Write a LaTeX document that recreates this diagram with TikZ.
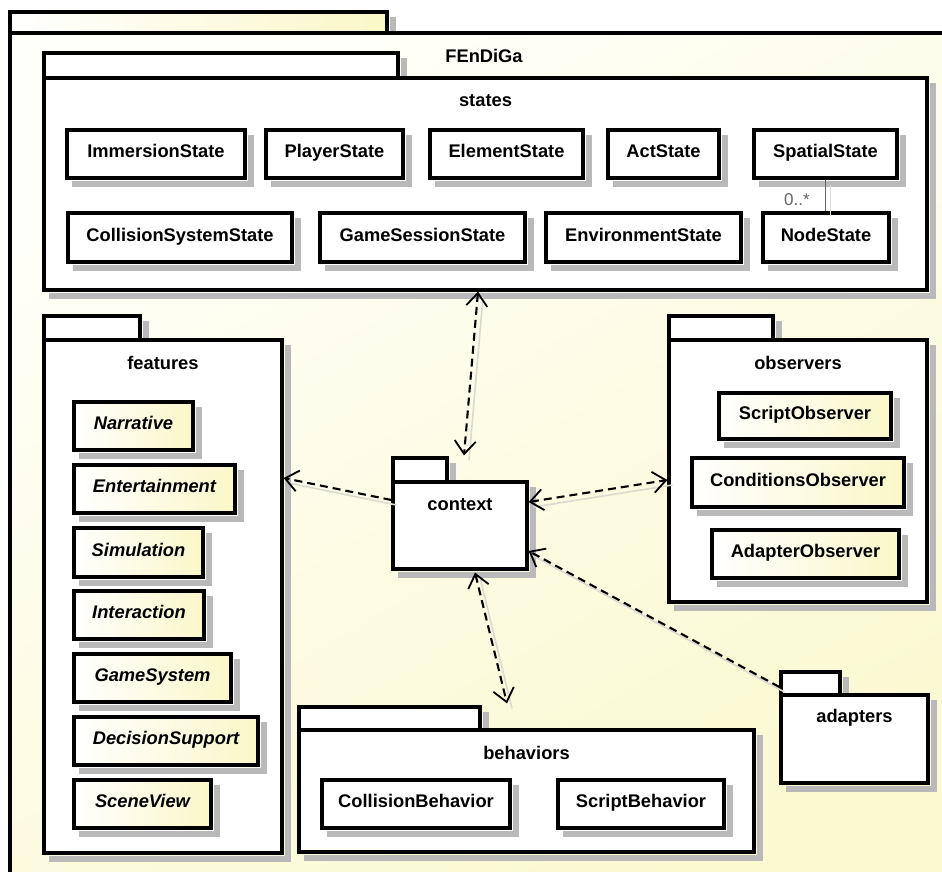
\documentclass[tikz,border=0pt]{standalone}
\usepackage{fontspec}
\setmainfont{Liberation Sans}
\usetikzlibrary{arrows.meta}

\definecolor{cream}{RGB}{250,247,200}
\definecolor{outerdeep}{RGB}{250,249,208}
\definecolor{outerlight}{RGB}{255,255,250}
\definecolor{shadowgray}{RGB}{185,185,185}
\definecolor{ghostgray}{RGB}{218,218,206}
\definecolor{multgray}{RGB}{100,100,100}

\tikzset{
  umlfont/.style={font=\fontsize{18.3}{22}\selectfont\bfseries},
  boxline/.style={draw, line width=3.2pt, rectangle, inner sep=0pt},
  cls/.style={boxline, fill=white, umlfont, text height=13pt, text depth=6pt},
  clsy/.style={cls, left color=white, right color=cream},
  abstractcls/.style={clsy, font=\fontsize{18.3}{22}\selectfont\bfseries\itshape},
  pkgpart/.style={boxline, fill=white},
  pkglabel/.style={umlfont, inner sep=0pt},
  shadowline/.style={draw=shadowgray, line width=6pt, line cap=butt, line join=miter},
  >={Straight Barb[length=13pt,width=21pt,line width=1.8pt]},
  dep/.style={line width=2.1pt, dash pattern=on 8pt off 5pt},
  ghost/.style={draw=ghostgray, line width=1.6pt, transform canvas={shift={(5pt,-5pt)}}},
  assoc/.style={draw=multgray, line width=1.6pt},
  mult/.style={font=\fontsize{17}{20}\selectfont, text=multgray, inner sep=0pt}
}

% drop shadow along the right and lower sides of a named box
\newcommand\boxshade[1]{%
  \draw[shadowline] ([shift={(4.6pt,-7pt)}]#1.north east) -- ([shift={(4.6pt,-4.6pt)}]#1.south east) -- ([shift={(7pt,-4.6pt)}]#1.south west);
}
% package: name, x1, tab top, body top, x2, y2, tab right, title
\newcommand\umlpkg[8]{%
  \node[pkgpart, minimum width={(#7-#2)*1pt}, minimum height={(#4-#3)*1pt}] (#1-tab) at ({(#2+#7)/2},{(#3+#4)/2}) {};
  \draw[shadowline] ([shift={(4.6pt,-7pt)}]#1-tab.north east) -- ([shift={(4.6pt,0pt)}]#1-tab.south east);
  \node[pkgpart, minimum width={(#5-#2)*1pt}, minimum height={(#6-#4)*1pt}] (#1) at ({(#2+#5)/2},{(#4+#6)/2}) {};
  \boxshade{#1}
  \node[pkglabel] (#1-label) at ({(#2+#5)/2},{#4+23}) {#8};
}
% class: style, name, x1, y1, x2, y2, text
\newcommand\umlcls[7]{%
  \node[#1, minimum width={(#5-#3)*1pt}, minimum height={(#6-#4)*1pt}] (#2) at ({(#3+#5)/2},{(#4+#6)/2}) {#7};
  \boxshade{#2}
}

\begin{document}
\begin{tikzpicture}[x=1pt,y=-1pt]
\useasboundingbox (0,0) rectangle (942,872);
\clip (0,0) rectangle (942,872);

% enclosing package FEnDiGa
\node[boxline, left color=white, right color=cream,
      minimum width=377pt, minimum height=21pt] (top-tab) at (198.5,22.5) {};
\draw[shadowline] ([shift={(4.6pt,-7pt)}]top-tab.north east) -- ([shift={(4.6pt,0pt)}]top-tab.south east);
\node[boxline, top color=outerlight, bottom color=outerdeep,
      shading angle=30, minimum width=948pt, minimum height=867pt] (top) at (484,466.5) {};
\node[pkglabel] (top-label) at (484,56) {FEnDiGa};

% sub-packages
\umlpkg{states}{44}{53}{78}{927}{290}{398}{states}
\umlpkg{feat}{44}{316}{340}{282}{853}{140}{features}
\umlpkg{obs}{669}{316}{340}{927}{602}{773}{observers}
\umlpkg{ctx}{393}{458}{482}{527}{569}{447}{context}
\umlpkg{beh}{299}{707}{730}{754}{852}{480}{behaviors}
\umlpkg{adp}{781}{672}{695}{928}{783}{840}{adapters}

% states
\umlcls{cls}{imm}{67}{130}{245}{178}{ImmersionState}
\umlcls{cls}{player}{266}{130}{403}{178}{PlayerState}
\umlcls{cls}{element}{430}{130}{583}{178}{ElementState}
\umlcls{cls}{act}{608}{130}{719}{178}{ActState}
\umlcls{cls}{spatial}{754}{130}{897}{178}{SpatialState}
\umlcls{cls}{collsys}{68}{213}{292}{262}{CollisionSystemState}
\umlcls{cls}{gamesess}{320}{213}{525}{262}{GameSessionState}
\umlcls{cls}{envir}{546}{213}{741}{262}{EnvironmentState}
\umlcls{cls}{nodest}{763}{213}{889}{262}{NodeState}

% features
\umlcls{abstractcls}{narr}{74}{402}{193}{450}{Narrative}
\umlcls{abstractcls}{ent}{74}{465}{235}{513}{Entertainment}
\umlcls{abstractcls}{sim}{74}{528}{203}{577}{Simulation}
\umlcls{abstractcls}{inter}{74}{591}{204}{639}{Interaction}
\umlcls{abstractcls}{gsys}{74}{654}{231}{702}{GameSystem}
\umlcls{abstractcls}{decs}{74}{717}{258}{765}{DecisionSupport}
\umlcls{abstractcls}{scene}{74}{780}{211}{828}{SceneView}

% observers
\umlcls{clsy}{sobs}{719}{393}{891}{439}{ScriptObserver}
\umlcls{clsy}{cobs}{692}{458}{904}{507}{ConditionsObserver}
\umlcls{clsy}{aobs}{712}{530}{899}{578}{AdapterObserver}

% behaviors
\umlcls{cls}{colb}{322}{780}{510}{828}{CollisionBehavior}
\umlcls{cls}{scrb}{558}{780}{724}{828}{ScriptBehavior}

% association SpatialState -- NodeState
\draw[ghost] (spatial.south) -- (spatial.south |- nodest.north);
\draw[assoc] (spatial.south) -- (spatial.south |- nodest.north)
  node[mult, pos=0.63, left=15pt] (mult) {0..*};

% connector end points
\coordinate (s-up)   at ([xshift=-7.5pt]states.south);
\coordinate (s-down) at ([shift={(4pt,25pt)}]ctx.north);
\coordinate (f-from) at ([yshift=25.5pt]ctx.west);
\coordinate (f-to)   at ([yshift=118.5pt]feat.east);
\coordinate (o-from) at ([yshift=23.5pt]ctx.east);
\coordinate (o-to)   at ([yshift=-9pt]obs.west);
\coordinate (a-from) at ([yshift=-3.5pt]adp-tab.west);
\coordinate (a-to)   at ([yshift=-25.5pt]ctx.east);
\coordinate (b-from) at ([shift={(15pt,-2pt)}]ctx.south);
\coordinate (b-to)   at ([shift={(-19.5pt,25pt)}]beh.north);

% faint offset traces of the connectors
\draw[ghost] (s-up) -- (s-down);
\draw[ghost] (f-from) -- (f-to);
\draw[ghost] (o-from) -- (o-to);
\draw[ghost] (a-from) -- (a-to);
\draw[ghost] (b-from) -- (b-to);

% dependencies
\draw[dep, <->] (s-up) -- (s-down);
\draw[dep, ->] (f-from) -- (f-to);
\draw[dep, <->] (o-from) -- (o-to);
\draw[dep, ->] (a-from) -- (a-to);
\draw[dep, <->] (b-from) -- (b-to);
\end{tikzpicture}
\end{document}
